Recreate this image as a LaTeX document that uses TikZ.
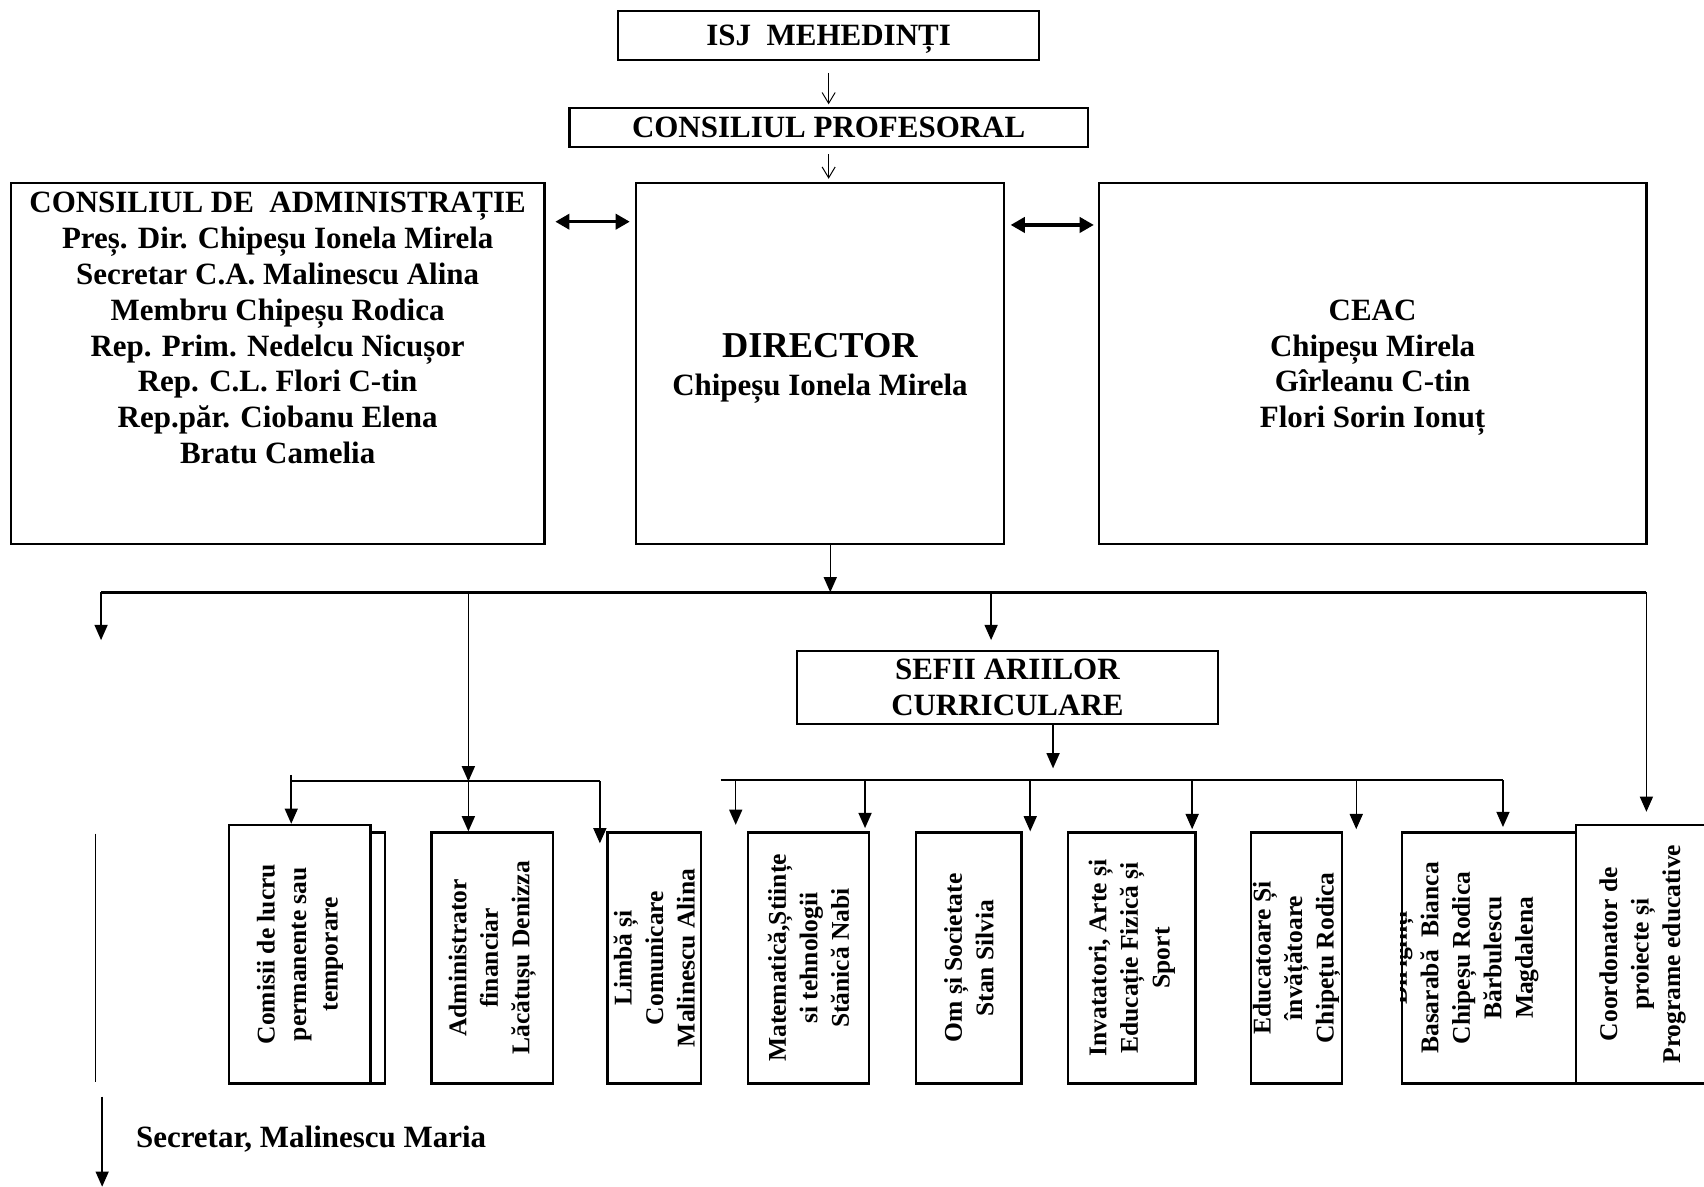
\documentclass[tikz,border=0pt]{standalone}
\usepackage{fontspec}
\setmainfont{Liberation Serif}
\usetikzlibrary{positioning, arrows.meta, shapes}

\begin{document}
\begin{tikzpicture}[x=1pt,y=-1pt,
box/.style={rectangle,draw=black,line width=2pt,fill=white,inner sep=0pt},
head/.style={font=\fontsize{28.5}{33}\selectfont\bfseries,align=center,inner sep=0pt},
vtext/.style={font=\fontsize{23.5}{29}\selectfont\bfseries,align=center,inner sep=0pt,rotate=90},
drop/.style={line width=1.4pt,-{Triangle[width=12pt,length=14pt]}},
thinarr/.style={line width=0.9pt,-{Straight Barb[width=12pt,length=10pt]}},
bus/.style={line width=2.4pt},
subbus/.style={line width=2pt},
twoway/.style={line width=3pt,{Triangle[width=14pt,length=13pt]}-{Triangle[width=14pt,length=13pt]}}]

\path[use as bounding box] (0,0) rectangle (1568,1092);
\clip (0,0) rectangle (1568,1092);

% top
\node[box,minimum width=387pt,minimum height=45pt] (isj) at (762.5,32.5) {};
\node[head,anchor=base] (isjT) at (762.5,42) {ISJ\ \ MEHEDINȚI};
\node[box,head,minimum width=477pt,minimum height=36pt] (cp) at (762.5,117) {CONSILIUL PROFESORAL};

% middle row
\node[box,minimum width=491pt,minimum height=332pt] (ca) at (255.5,334.5) {};
\node[box,minimum width=339pt,minimum height=332pt] (dir) at (754.5,334.5) {};
\node[box,minimum width=504pt,minimum height=332pt] (ceac) at (1263,334.5) {};

\node[head,anchor=north] (caT) at (255.5,176.6) {CONSILIUL DE\ \ ADMINISTRAȚIE\\Preș. Dir. Chipeșu Ionela Mirela\\Secretar C.A. Malinescu Alina\\Membru Chipeșu Rodica\\Rep. Prim. Nedelcu Nicușor\\Rep. C.L. Flori C-tin\\Rep.păr. Ciobanu Elena\\Bratu Camelia};
\node[head,anchor=base,font=\fontsize{33.5}{38}\selectfont\bfseries] (dirT) at (754.5,329) {DIRECTOR};
\node[head,anchor=base] (dirN) at (754.5,363.5) {Chipeșu Ionela Mirela};
\node[head,anchor=north] (ceacT) at (1263,275.6) {CEAC\\Chipeșu Mirela\\Gîrleanu C-tin\\Flori Sorin Ionuț};

\draw[thinarr,shorten <=11pt,shorten >=2pt] (isj.south) -- (cp.north);
\draw[thinarr,shorten <=6pt,shorten >=3pt] (cp.south) -- (cp.south |- dir.north);
\draw[twoway,shorten <=9pt,shorten >=4.5pt] ([yshift=130.5pt]ca.east) -- ([yshift=130.5pt]dir.west);
\draw[twoway,shorten <=5pt,shorten >=3.5pt] ([yshift=127.5pt]dir.east) -- ([yshift=127.5pt]ceac.west);

% main bus
\coordinate (busL) at (93,545);
\coordinate (busR) at (1515,545);
\coordinate (busM) at (764,545);
\draw[drop] (dir.south -| busM) -- (busM);
\draw[bus] (busL) -- (busR);

\coordinate (secA) at (93,589);
\coordinate (tSef) at (912,589);
\coordinate (tCoo) at (1515,747);
\draw[drop] (busL) -- (secA);
\draw[drop] (busL -| tSef) -- (tSef);
\draw[drop] (busR) -- (tCoo);

\node[box,head,minimum width=388pt,minimum height=67pt] (sefii) at (927,632.5) {SEFII ARIILOR\\CURRICULARE};
\coordinate (tSub) at (969,707);
\draw[drop] (sefii.south -| tSub) -- (tSub);

% lower boxes
\node[box,minimum width=129pt,minimum height=231pt] (comB) at (289.5,881.5) {};
\node[box,minimum width=130pt,minimum height=238pt] (com) at (276,878) {};
\node[vtext] (comT) at (com) {Comisii de lucru\\permanente sau\\temporare};

\node[box,minimum width=112pt,minimum height=231pt] (adm) at (453,881.5) {};
\node[vtext] (admT) at (adm) {Administrator\\financiar\\Lăcătușu Denizza};

\node[box,minimum width=86pt,minimum height=231pt] (lim) at (602,881.5) {};
\node[vtext] (limT) at (lim) {Limbă și\\Comunicare\\Malinescu Alina};

\node[box,minimum width=112pt,minimum height=231pt] (mat) at (744,881.5) {};
\node[vtext] (matT) at (mat) {Matematică,Științe\\si tehnologii\\Stănică Nabi};

\node[box,minimum width=97pt,minimum height=231pt] (om) at (891.5,881.5) {};
\node[vtext] (omT) at (om) {Om și Societate\\Stan Silvia};

\node[box,minimum width=117pt,minimum height=231pt] (inv) at (1041.5,881.5) {};
\node[vtext] (invT) at (inv) {Invatatori, Arte și\\Educație Fizică și\\Sport};

\node[box,minimum width=84pt,minimum height=231pt] (edu) at (1193,881.5) {};
\node[vtext] (eduT) at (edu) {Educatoare Și\\învățătoare\\Chipețu Rodica};

\node[box,minimum width=160pt,minimum height=231pt] (dirg) at (1370,881.5) {};
\begin{scope}
\clip (dirg.north west) rectangle (dirg.south east);
\node[vtext] (dirgT) at (1347,881.5) {Diriginți\\Basarabă\ \ Bianca\\Chipeșu Rodica\\Bărbulescu\\Magdalena};
\end{scope}

\node[box,minimum width=170pt,minimum height=238pt] (coo) at (1535,878) {};
\node[vtext] (cooT) at (1511.5,878) {Coordonator de\\proiecte și\\Programe educative};

% left sub-bus
\coordinate (subAL) at (268,719);
\coordinate (subA) at (431,719);
\coordinate (subAR) at (552,719);
\coordinate (tLim) at (552,776);
\draw[subbus] (subAL) -- (subAR);
\draw[drop] ([yshift=6pt]subAL) -- (subAL |- com.north);
\draw[drop] (busL -| subA) -- (subA);
\draw[drop] (subA) -- (subA |- adm.north);
\draw[drop] (subAR) -- (tLim);

% right sub-bus
\coordinate (subBL) at (663,718);
\coordinate (subBR) at (1383,718);
\coordinate (tMat1) at (677,759);
\coordinate (tMat2) at (796,762);
\coordinate (tOm) at (948,765);
\coordinate (tInv) at (1097,763);
\coordinate (tEdu) at (1248,763);
\coordinate (tDirg) at (1383,761);
\draw[subbus] (subBL) -- (subBR);
\draw[drop] (subBL -| tMat1) -- (tMat1);
\draw[drop] (subBL -| tMat2) -- (tMat2);
\draw[drop] (subBL -| tOm) -- (tOm);
\draw[drop] (subBL -| tInv) -- (tInv);
\draw[drop] (subBL -| tEdu) -- (tEdu);
\draw[drop] (subBR) -- (tDirg);

% secretariat
\coordinate (lnT) at (88,767);
\coordinate (lnB) at (88,996);
\coordinate (secT) at (94,1009);
\coordinate (secB) at (94,1092);
\draw[line width=1.3pt] (lnT) -- (lnB);
\draw[drop] (secT) -- (secB);
\node[head,anchor=west] (sec) at (125,1048) {Secretar, Malinescu Maria};

\end{tikzpicture}
\end{document}
